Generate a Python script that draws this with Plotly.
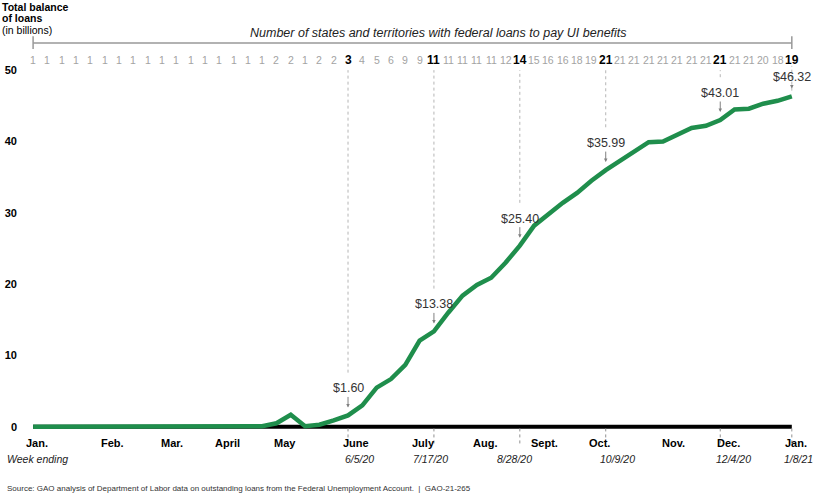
import pandas as pd
import plotly.graph_objects as go

FAMILY = "Arial, Liberation Sans, sans-serif"
GREEN = "#1f8e4c"
GRAY = "#a3a3a3"

# weekly data, weeks ending Friday, 1/3/20 .. 1/8/21
week_ending = pd.date_range("2020-01-03", periods=54, freq="7D")

loan_balance = [0, 0, 0, 0, 0, 0, 0, 0, 0, 0, 0, 0, 0, 0, 0, 0,
                0.1, 0.5, 1.7, 0.1, 0.3, 0.9, 1.60, 3.0, 5.5, 6.7, 8.7, 12.1,
                13.38, 16.0, 18.4, 19.9, 20.9, 23.0, 25.40, 28.2, 29.9, 31.4,
                32.8, 34.5, 35.99, 37.3, 38.6, 39.9, 40.0, 40.9, 41.9, 42.2,
                43.01, 44.5, 44.6, 45.3, 45.7, 46.32]

states_with_loans = [1, 1, 1, 1, 1, 1, 1, 1, 1, 1, 1, 1, 1, 1, 1, 1, 1,
                     2, 2, 1, 2, 2, 3, 4, 5, 6, 9, 9, 11, 11, 11, 11, 11, 12,
                     14, 15, 16, 16, 18, 19, 21, 21, 21, 21, 21, 21, 21, 21,
                     21, 21, 21, 20, 18, 19]

# highlighted weeks
highlight_idx = [22, 28, 34, 40, 48, 53]
highlight_labels = ["$1.60", "$13.38", "$25.40", "$35.99", "$43.01", "$46.32"]
highlight_dates = ["6/5/20", "7/17/20", "8/28/20", "10/9/20", "12/4/20", "1/8/21"]

month_labels = ["Jan.", "Feb.", "Mar.", "April", "May", "June", "July", "Aug.",
                "Sept.", "Oct.", "Nov.", "Dec.", "Jan."]
month_pos = ["2020-01-05", "2020-02-11", "2020-03-11", "2020-04-07", "2020-05-05",
             "2020-06-09", "2020-07-12", "2020-08-11", "2020-09-09", "2020-10-06",
             "2020-11-11", "2020-12-08", "2021-01-10"]

y_ticks = [0, 10, 20, 30, 40, 50]

# small horizontal nudges of the "week ending" dates (px)
date_xshift = [11, -3, -5, 12, 13, 7]

fig = go.Figure()

# balance line
fig.add_trace(go.Scatter(
    x=week_ending, y=loan_balance, mode="lines",
    line=dict(color=GREEN, width=4.5),
    hovertemplate="%{x|%-m/%-d/%y}: $%{y:.2f} billion<extra></extra>"))

shapes = []
annotations = []

# zero axis line
shapes.append(dict(type="line", xref="x", yref="y",
                   x0=week_ending[0], x1=week_ending[-1], y0=0, y1=0,
                   line=dict(color="black", width=4), layer="below"))

# row with number of states
for i, n in enumerate(states_with_loans):
    if i in highlight_idx:
        txt, col, sz = "<b>%d</b>" % n, "#000000", 12
    else:
        txt, col, sz = str(n), GRAY, 10.5
    annotations.append(dict(x=week_ending[i], y=1.008, xref="x", yref="paper",
                            xanchor="center", yanchor="middle",
                            text=txt, showarrow=False,
                            font=dict(size=sz, color=col, family=FAMILY)))

for i, lab, d, xs in zip(highlight_idx, highlight_labels, highlight_dates, date_xshift):
    xd = week_ending[i]
    v = loan_balance[i]
    last = i == highlight_idx[-1]
    top = v + 0.8 if last else v + 6
    shapes.append(dict(type="line", xref="x", yref="y", x0=xd, x1=xd,
                       y0=top, y1=50.6 if last else 50.0,
                       line=dict(color="#b5b5b5", width=1, dash="dot")))
    # below the axis
    shapes.append(dict(type="line", xref="x", yref="paper", x0=xd, x1=xd,
                       y0=0.015, y1=-0.03,
                       line=dict(color="#909090", width=1, dash="dot")))
    annotations.append(dict(
        x=xd, y=v, xref="x", yref="y", text=lab, showarrow=True,
        ax=0, ay=-19 if last else -27,
        arrowhead=2, arrowsize=0.7, arrowwidth=1, arrowcolor="#808080",
        standoff=8, font=dict(size=12.5, color="#333333", family=FAMILY)))
    annotations.append(dict(
        x=xd, y=-0.067, xref="x", yref="paper", text="<i>%s</i>" % d,
        xanchor="center", yanchor="middle", showarrow=False, xshift=xs,
        font=dict(size=10.5, color="#222222", family=FAMILY)))

# month labels
for m, p in zip(month_labels, month_pos):
    annotations.append(dict(x=p, y=-0.024, xref="x", yref="paper",
                            xanchor="center", yanchor="middle",
                            text="<b>%s</b>" % m, showarrow=False,
                            font=dict(size=11, color="#000000", family=FAMILY)))

# bracket above the number row
shapes.append(dict(type="line", xref="x", yref="paper",
                   x0=week_ending[0], x1=week_ending[-1], y0=1.054, y1=1.054,
                   line=dict(color="#999999", width=1.5)))
for xd in [week_ending[0], week_ending[-1]]:
    shapes.append(dict(type="line", xref="x", yref="paper",
                       x0=xd, x1=xd, y0=1.038, y1=1.072,
                       line=dict(color="#999999", width=1.5)))

annotations.append(dict(
    x=0.531, y=1.081, xref="paper", yref="paper", showarrow=False,
    xanchor="center", yanchor="middle",
    text="<i>Number of states and territories with federal loans to pay UI benefits</i>",
    font=dict(size=12.5, color="#222222", family=FAMILY)))

# y axis title, three tight lines
for txt, yy in [("<b>Total balance</b>", 1.151), ("<b>of loans</b>", 1.120),
                ("(in billions)", 1.089)]:
    annotations.append(dict(
        x=-0.0376, y=yy, xref="paper", yref="paper", showarrow=False,
        xanchor="left", yanchor="middle", text=txt,
        font=dict(size=10.5, color="#000000", family=FAMILY)))

annotations.append(dict(
    x=-0.031, y=-0.067, xref="paper", yref="paper", showarrow=False,
    xanchor="left", yanchor="middle", text="<i>Week ending</i>",
    font=dict(size=10.5, color="#222222", family=FAMILY)))

annotations.append(dict(
    x=-0.031, y=-0.148, xref="paper", yref="paper", showarrow=False,
    xanchor="left", yanchor="middle",
    text="Source: GAO analysis of Department of Labor data on outstanding loans "
         "from the Federal Unemployment Account.  |  GAO-21-265",
    font=dict(size=8, color="#333333", family=FAMILY)))

fig.update_layout(
    width=840, height=497,
    margin=dict(l=29, r=40, t=63, b=63),
    paper_bgcolor="white", plot_bgcolor="white",
    showlegend=False,
    font=dict(family=FAMILY, color="#000000"),
    shapes=shapes,
    annotations=annotations,
    xaxis=dict(range=["2020-01-01", "2021-01-12"], showgrid=False, zeroline=False,
               showline=False, ticks="", showticklabels=False, automargin=False),
    yaxis=dict(range=[-1, 51], showgrid=False, zeroline=False, showline=False,
               ticks="", tickmode="array", tickvals=y_ticks,
               ticktext=["<b>%d</b>" % t for t in y_ticks],
               ticklabelstandoff=11, automargin=False,
               tickfont=dict(size=11, family=FAMILY, color="#000000")),
)

# page body has a default 8px margin; drop it so the figure sits at the corner
fig.write_html("out.html", config={"displayModeBar": False},
               post_script="document.body.style.margin='0px';")
